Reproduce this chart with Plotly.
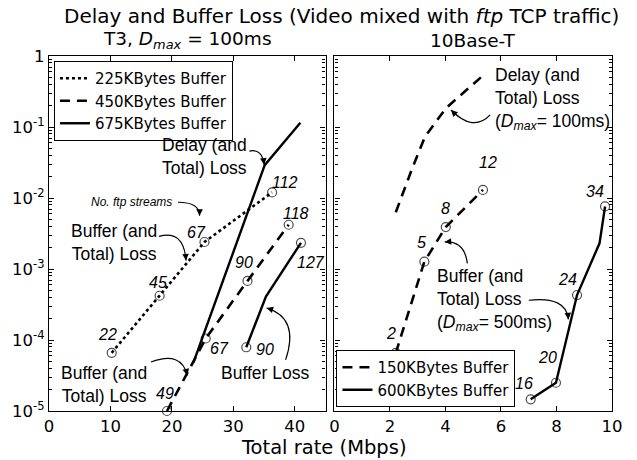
import math
import plotly.graph_objects as go

# ---------------- data ----------------
# Left panel: T3, Dmax = 100 ms  (x: total rate Mbps, y: loss probability)
t3_225_x = [10.2, 18.0, 25.3, 36.3]
t3_225_y = [6.6e-5, 4.2e-4, 2.4e-3, 1.2e-2]
t3_225_n = ["22", "45", "67", "112"]

t3_450_x = [19.2, 25.5, 32.3, 39.0]
t3_450_y = [1.0e-5, 1.05e-4, 6.8e-4, 4.2e-3]
t3_450_n = ["49", "67", "90", "118"]

t3_675_delay_x = [23.5, 35.1, 40.9]
t3_675_delay_y = [4.8e-5, 2.9e-2, 0.115]

t3_675_buf_x = [32.1, 35.3, 41.0]
t3_675_buf_y = [7.9e-5, 4.1e-4, 2.34e-3]
t3_675_buf_n = ["90", "", "127"]

# Right panel: 10Base-T
eth_150_buf_x = [2.21, 3.24, 4.01, 5.35]
eth_150_buf_y = [6.6e-5, 1.27e-3, 3.9e-3, 1.3e-2]
eth_150_buf_n = ["2", "5", "8", "12"]

eth_150_delay_x = [2.21, 2.8, 3.26, 4.02, 5.35]
eth_150_delay_y = [6.3e-3, 2.6e-2, 7.3e-2, 0.185, 0.53]

eth_600_x = [7.07, 7.98, 8.74, 9.55, 9.75]
eth_600_y = [1.46e-5, 2.5e-5, 4.3e-4, 2.3e-3, 7.6e-3]
eth_600_n = ["16", "20", "24", "", "34"]

y_tickvals = [1e-5, 1e-4, 1e-3, 1e-2, 1e-1, 1]
y_ticktext = ["10<sup>-5</sup>", "10<sup>-4</sup>", "10<sup>-3</sup>",
              "10<sup>-2</sup>", "10<sup>-1</sup>", "1"]
x1_tickvals = [0, 10, 20, 30, 40]
x2_tickvals = [0, 2, 4, 6, 8, 10]

# ---------------- layout geometry ----------------
W, H = 637, 460
ML, MR, MT, MB = 44, 25, 56, 49
PW = W - ML - MR
PH = H - MT - MB
dom1 = [0.0, 279 / PW]
dom2 = [288 / PW, 1.0]
xr1 = [0, 45]
xr2 = [0, 10]
yr = [-5, 0]

SANS = "DejaVu Sans"
ARIAL = "Liberation Sans"

fig = go.Figure()

def marker_sizes(labels):
    return [9 if s else 0 for s in labels]

# left panel traces
fig.add_trace(go.Scatter(x=t3_225_x, y=t3_225_y, mode="lines", name="225KBytes Buffer",
                         line=dict(color="black", width=2.6, dash="dot"),
                         xaxis="x", yaxis="y", legend="legend"))
fig.add_trace(go.Scatter(x=t3_450_x, y=t3_450_y, mode="lines", name="450KBytes Buffer",
                         line=dict(color="black", width=2.6, dash="10px,7px"),
                         xaxis="x", yaxis="y", legend="legend"))
fig.add_trace(go.Scatter(x=t3_675_delay_x, y=t3_675_delay_y, mode="lines", name="675KBytes Buffer",
                         line=dict(color="black", width=2.4),
                         xaxis="x", yaxis="y", legend="legend"))
fig.add_trace(go.Scatter(x=t3_675_buf_x, y=t3_675_buf_y, mode="lines", showlegend=False,
                         line=dict(color="black", width=2.4),
                         xaxis="x", yaxis="y"))
for xs, ys, ns in [(t3_225_x, t3_225_y, t3_225_n), (t3_450_x, t3_450_y, t3_450_n),
                   (t3_675_buf_x, t3_675_buf_y, t3_675_buf_n)]:
    fig.add_trace(go.Scatter(x=xs, y=ys, mode="markers", showlegend=False, cliponaxis=False,
                             marker=dict(symbol="circle-open", size=marker_sizes(ns),
                                         color="black", line=dict(width=1.2)),
                             xaxis="x", yaxis="y"))

# right panel traces
fig.add_trace(go.Scatter(x=eth_150_buf_x, y=eth_150_buf_y, mode="lines", name="150KBytes Buffer",
                         line=dict(color="black", width=2.6, dash="10px,7px"),
                         xaxis="x2", yaxis="y2", legend="legend2"))
fig.add_trace(go.Scatter(x=eth_150_delay_x, y=eth_150_delay_y, mode="lines", showlegend=False,
                         line=dict(color="black", width=2.6, dash="10px,7px"),
                         xaxis="x2", yaxis="y2"))
fig.add_trace(go.Scatter(x=eth_600_x, y=eth_600_y, mode="lines", name="600KBytes Buffer",
                         line=dict(color="black", width=2.4),
                         xaxis="x2", yaxis="y2", legend="legend2"))
for xs, ys, ns in [(eth_150_buf_x, eth_150_buf_y, eth_150_buf_n), (eth_600_x, eth_600_y, eth_600_n)]:
    fig.add_trace(go.Scatter(x=xs, y=ys, mode="markers", showlegend=False, cliponaxis=False,
                             marker=dict(symbol="circle-open", size=marker_sizes(ns),
                                         color="black", line=dict(width=1.2)),
                             xaxis="x2", yaxis="y2"))

# ---------------- annotations ----------------
ann = []

# stream-count labels, placed relative to their points (pixel offsets)
label_shift = {
    ("x", "22"): (-4, 18), ("x", "45"): (-2, 13), ("x", "67a"): (-8, 10), ("x", "112"): (13, 10),
    ("x", "49"): (-2, 18), ("x", "67b"): (14, -10), ("x", "90a"): (-4, 18), ("x", "118"): (7, 11),
    ("x", "90b"): (19, -2), ("x", "127"): (10, -20),
    ("x2", "2"): (-5, 19), ("x2", "5"): (-3, 19), ("x2", "8"): (0, 19), ("x2", "12"): (5, 27),
    ("x2", "16"): (-7, 16), ("x2", "20"): (-8, 25), ("x2", "24"): (-10, 16), ("x2", "34"): (-10, 15),
}
series_for_labels = [
    ("x", "y", t3_225_x, t3_225_y, t3_225_n, {"67": "67a"}),
    ("x", "y", t3_450_x, t3_450_y, t3_450_n, {"67": "67b", "90": "90a"}),
    ("x", "y", t3_675_buf_x, t3_675_buf_y, t3_675_buf_n, {"90": "90b"}),
    ("x2", "y2", eth_150_buf_x, eth_150_buf_y, eth_150_buf_n, {}),
    ("x2", "y2", eth_600_x, eth_600_y, eth_600_n, {}),
]
for xa, ya, xs, ys, ns, alias in series_for_labels:
    for xv, yv, n in zip(xs, ys, ns):
        if not n:
            continue
        dx, dy = label_shift[(xa, alias.get(n, n))]
        ann.append(dict(x=xv, y=math.log10(yv), xref=xa, yref=ya, text="<i>%s</i>" % n,
                        showarrow=False, xshift=dx, yshift=dy,
                        xanchor="center", yanchor="middle",
                        font=dict(family=ARIAL, size=16, color="black")))

def txt(x, ly, xa, ya, text, size=17.5, xanchor="center", align="center"):
    ann.append(dict(x=x, y=ly, xref=xa, yref=ya, text=text, showarrow=False,
                    xanchor=xanchor, yanchor="middle", align=align,
                    font=dict(family=ARIAL, size=size, color="black")))

txt(25.3, -1.41, "x", "y", "Delay (and<br>Total) Loss")
txt(13.4, -2.06, "x", "y", "<i>No. ftp streams</i>", size=12)
txt(10.5, -2.63, "x", "y", "Buffer (and<br>Total) Loss")
txt(9.0, -4.63, "x", "y", "Buffer (and<br>Total) Loss")
txt(35.2, -4.46, "x", "y", "Buffer Loss")
txt(5.71, -0.61, "x2", "y2", "Delay (and<br>Total) Loss<br>(<i>D<sub>max</sub></i>= 100ms)",
    xanchor="left", align="left")
txt(3.62, -3.44, "x2", "y2", "Buffer (and<br>Total) Loss<br>(<i>D<sub>max</sub></i>= 500ms)",
    xanchor="left", align="left")

# curved arrows: quadratic curve in subplot data coords (x, log10 y)
def to_px(p, panel):
    dom, xr = (dom1, xr1) if panel == 1 else (dom2, xr2)
    x, ly = p
    fx = dom[0] + (dom[1] - dom[0]) * (x - xr[0]) / (xr[1] - xr[0])
    fy = (ly - yr[0]) / (yr[1] - yr[0])
    return ML + fx * PW, MT + (1 - fy) * PH

def to_paper(px, py):
    return (px - ML) / PW, (MT + PH - py) / PH

shapes = []
arrows = [
    (1, (32.6, -1.34), (34.7, -1.30), (35.0, -1.53)),
    (1, (21.0, -2.06), (24.5, -2.06), (24.5, -2.25)),
    (1, (17.9, -2.54), (21.9, -2.44), (22.3, -2.88)),
    (1, (16.6, -4.31), (21.6, -4.15), (22.5, -4.50)),
    (1, (38.5, -4.28), (40.8, -3.69), (35.4, -3.55)),
    (2, (5.61, -0.83), (5.0, -1.08), (4.2, -0.76)),
    (2, (4.79, -2.92), (4.68, -2.60), (3.97, -2.62)),
    (2, (7.0, -3.44), (8.35, -3.38), (8.43, -3.71)),
]
for panel, s, c, e in arrows:
    ps, pc, pe = to_px(s, panel), to_px(c, panel), to_px(e, panel)
    a, b, d = to_paper(*ps), to_paper(*pc), to_paper(*pe)
    shapes.append(dict(type="path", xref="paper", yref="paper",
                       path="M %f,%f Q %f,%f %f,%f" % (a[0], a[1], b[0], b[1], d[0], d[1]),
                       line=dict(color="black", width=1.2)))
    vx, vy = pc[0] - pe[0], pc[1] - pe[1]
    norm = math.hypot(vx, vy) or 1
    ann.append(dict(x=d[0], y=d[1], xref="paper", yref="paper", text="", showarrow=True,
                    ax=vx / norm * 6, ay=vy / norm * 6, arrowhead=2, arrowsize=1.1,
                    arrowwidth=1.2, arrowcolor="black", standoff=0))

# titles (paper coords, explicitly centred)
def head(px, py, text, size):
    ann.append(dict(x=(px - ML) / PW, y=(MT + PH - py) / PH, xref="paper", yref="paper",
                    text=text, showarrow=False, xanchor="center", yanchor="middle",
                    font=dict(family=SANS, size=size, color="black")))

head(339, 16, "Delay and Buffer Loss (Video mixed with <i>ftp</i> TCP traffic)", 20)
head(ML + (dom1[0] + dom1[1]) / 2 * PW, 40, "T3, <i>D<sub>max</sub></i> = 100ms", 18.5)
head(ML + (dom2[0] + dom2[1]) / 2 * PW, 40, "10Base-T", 18.5)
head(321, 447, "Total rate (Mbps)", 19.5)

axis_common = dict(showline=True, linecolor="black", linewidth=1.2, mirror="ticks",
                   ticks="inside", ticklen=5, tickwidth=1, tickcolor="black",
                   showgrid=False, zeroline=False,
                   tickfont=dict(family=SANS, size=16.5, color="black"))
minor_vals = [m * 10 ** e for e in range(-5, 0) for m in range(2, 10)]
yaxis_common = dict(type="log", range=yr, tickmode="array", tickvals=y_tickvals,
                    ticktext=y_ticktext,
                    minor=dict(ticks="inside", ticklen=3, tickcolor="black",
                               tickmode="array", tickvals=minor_vals, showgrid=False),
                    **axis_common)

legend_common = dict(bgcolor="white", bordercolor="black", borderwidth=1,
                     font=dict(family=SANS, size=15, color="black"),
                     xref="paper", yref="paper", tracegroupgap=0, itemwidth=30)

fig.update_layout(
    width=W, height=H,
    margin=dict(l=ML, r=MR, t=MT, b=MB, pad=0),
    plot_bgcolor="white", paper_bgcolor="white",
    xaxis=dict(domain=dom1, range=xr1, tickmode="array", tickvals=x1_tickvals,
               anchor="y", **axis_common),
    yaxis=dict(domain=[0, 1], anchor="x", **yaxis_common),
    xaxis2=dict(domain=dom2, range=xr2, tickmode="array", tickvals=x2_tickvals,
                anchor="y2", **axis_common),
    yaxis2=dict(domain=[0, 1], anchor="x2", showticklabels=False, **yaxis_common),
    legend=dict(x=(49 - ML) / PW, y=(MT + PH - 61) / PH, xanchor="left", yanchor="top",
                **legend_common),
    legend2=dict(x=(334 - ML) / PW, y=(MT + PH - 407) / PH, xanchor="left", yanchor="bottom",
                 **legend_common),
    annotations=ann,
    shapes=shapes,
    showlegend=True,
)

fig.write_html("out.html", config={"displayModeBar": False},
               post_script="document.body.style.margin='0';document.body.style.padding='0';")
